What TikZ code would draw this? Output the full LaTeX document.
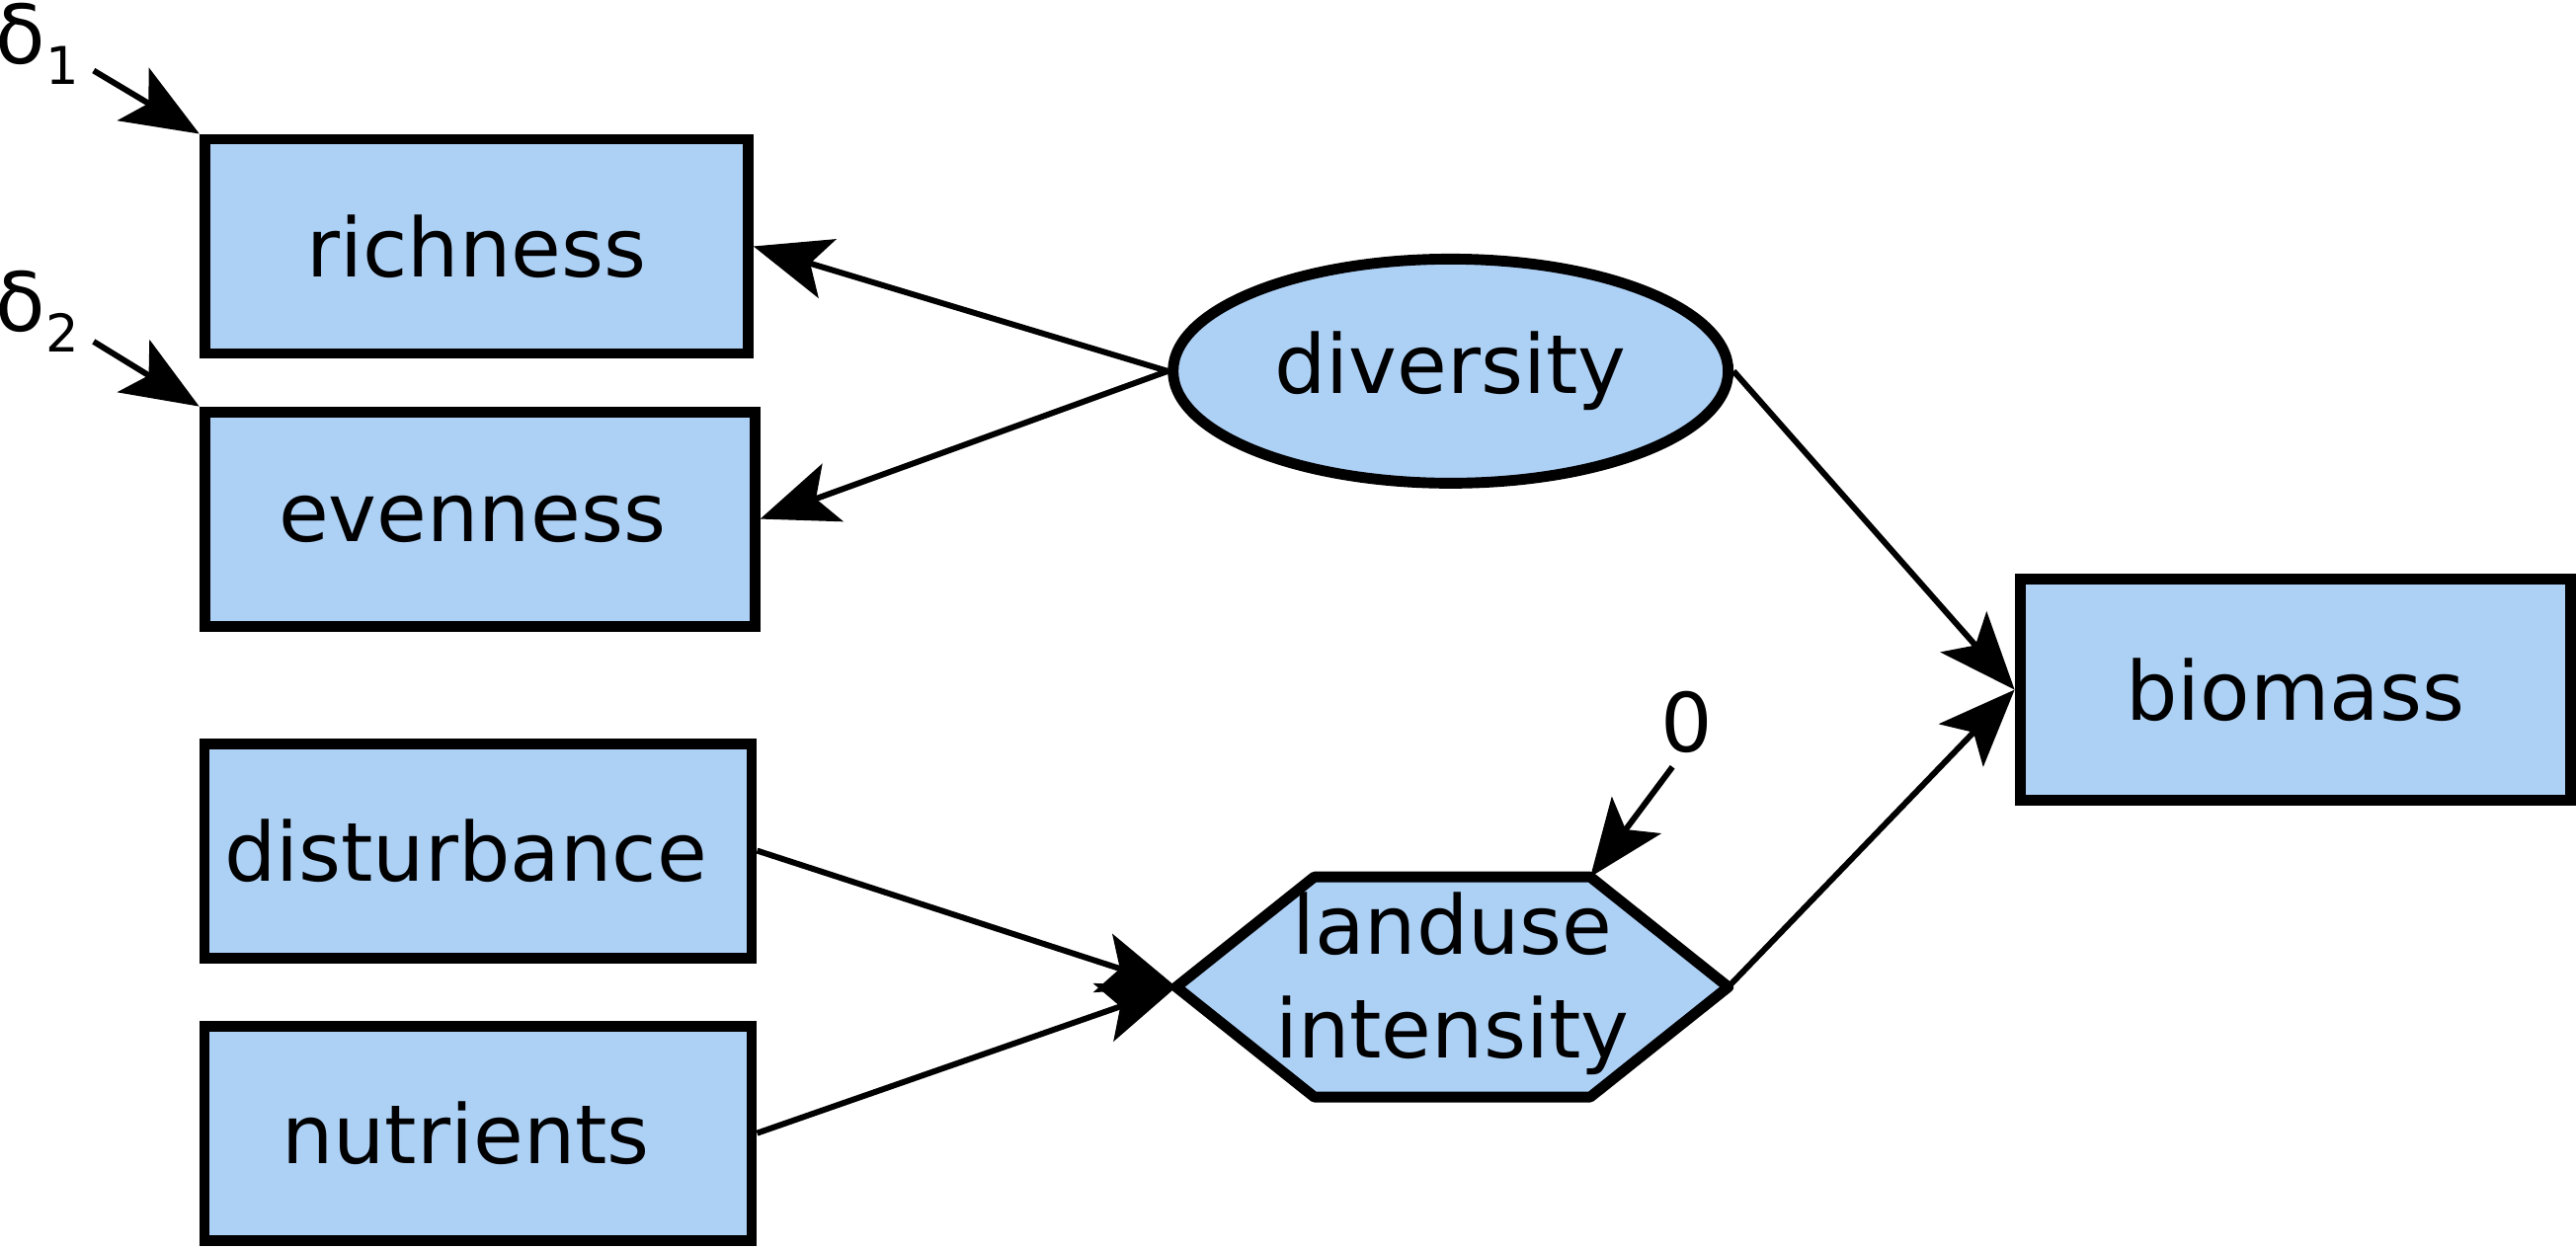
\documentclass[tikz,border=0pt]{standalone}
\usepackage{fontspec}
\setmainfont{DejaVu Sans}
\usetikzlibrary{arrows.meta,shapes.geometric}
\definecolor{boxblue}{RGB}{173,208,245}
\begin{document}
\begin{tikzpicture}[x=0.016633cm,y=-0.016633cm,
  txt/.style={font=\fontsize{23.5}{30}\selectfont},
  obs/.style={txt, draw=black, line width=3.1pt, fill=boxblue, rectangle,
    minimum width=5.5cm, minimum height=2.17cm, inner sep=0pt},
  lat/.style={txt, draw=black, line width=3.1pt, fill=boxblue, ellipse,
    minimum width=5.62cm, minimum height=2.27cm, inner sep=0pt},
  hexa/.style={draw=black, line width=3.1pt, fill=boxblue, line join=round},
  conn/.style={line width=1.7pt, -{Stealth[length=0.78cm,width=0.62cm,inset=0.18cm]}},
]
\useasboundingbox (0,0) rectangle (1568,760);

\node[obs] (rich) at (290,150) {richness};
\node[obs, minimum width=5.57cm] (even) at (292,316) {evenness\hspace*{0.15cm}};
\node[obs, minimum width=5.54cm] (dist) at (291,518) {disturbance\hspace*{0.25cm}};
\node[obs, minimum width=5.54cm] (nutr) at (291,690) {nutrients\hspace*{0.25cm}};
\node[obs, minimum width=5.57cm, minimum height=2.24cm] (bio) at (1397,420) {biomass};
\node[lat] (div) at (883,226) {diversity};

\coordinate (luW) at (716,601);
\coordinate (luNW) at (800,534);
\coordinate (luNE) at (968,534);
\coordinate (luE) at (1052,601);
\coordinate (luSE) at (968,668);
\coordinate (luSW) at (800,668);
\draw[hexa] (luW) -- (luNW) -- (luNE) -- (luE) -- (luSE) -- (luSW) -- cycle;
\node[txt, align=center] (lu) at (884,599) {landuse\\intensity};

\node[txt, anchor=base west, inner sep=0pt] (d1) at (-3,39) {δ\raisebox{-0.45ex}{\fontsize{15}{15}\selectfont 1}};
\node[txt, anchor=base west, inner sep=0pt] (d2) at (-3,202) {δ\raisebox{-0.45ex}{\fontsize{15}{15}\selectfont 2}};
\node[txt, inner sep=0pt] (zero) at (1027,440) {0};

\coordinate (d1s) at (57,43);
\coordinate (d2s) at (57,208);
\coordinate (zs) at (1018,467);

\draw[conn] (d1s) -- (rich.north west);
\draw[conn] (d2s) -- (even.north west);
\draw[conn] (zs) -- (luNE);
\draw[conn] (div.west) -- (rich.east);
\draw[conn] (div.west) -- (even.east);
\draw[conn] (div.east) -- (bio.west);
\draw[conn] (luE) -- (bio.west);
\draw[conn] (dist.east) -- (luW);
\draw[conn] (nutr.east) -- (luW);
\end{tikzpicture}
\end{document}
